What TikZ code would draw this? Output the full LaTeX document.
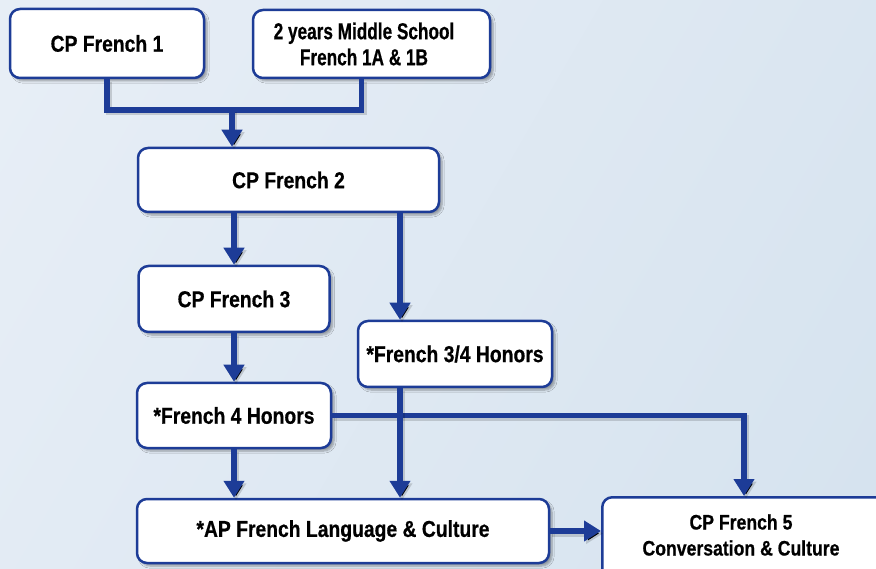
\documentclass[tikz,border=0pt]{standalone}
\usepackage{fontspec}
\setmainfont{Liberation Sans}[FakeStretch=0.84, BoldFeatures={FakeBold=0.6}]
\usetikzlibrary{arrows.meta,shadows.blur,calc}
\definecolor{bgA}{HTML}{E7EEF6}
\definecolor{bgB}{HTML}{D6E3EF}
\definecolor{navy}{HTML}{1D3C97}
\tikzset{
  box/.style={draw=navy, line width=2.5pt, fill=white, rounded corners=10pt,
    align=center, inner sep=0pt, font=\fontsize{23}{26}\selectfont\bfseries,
    blur shadow={shadow xshift=3pt, shadow yshift=-3pt, shadow blur steps=6, shadow opacity=35}},
  conn/.style={draw=navy, line width=5.5pt,
    preaction={draw=black, draw opacity=0.15, line width=6pt, transform canvas={shift={(2pt,-2.5pt)}}}},
  arr/.style={conn, -{Triangle[width=20pt,length=17pt]}},
}
\begin{document}
\begin{tikzpicture}[x=1pt,y=-1pt]
\useasboundingbox (0,0) rectangle (876,569);
\clip (0,0) rectangle (876,569);
\shade[shading=axis, left color=bgA, right color=bgB, shading angle=60] (-100,-100) rectangle (976,669);

\node[box, minimum width=194pt, minimum height=69pt] (f1) at (107,43.5) {CP French 1};
\node[box, minimum width=237pt, minimum height=68pt] (ms) at (371.5,44) {};
\node[font=\fontsize{23}{26}\selectfont\bfseries, align=center, inner sep=0pt] (mst) at (364,44) {\scalebox{0.89}[1]{2 years Middle School}\\\scalebox{0.89}[1]{French 1A \& 1B}};
\node[box, minimum width=301pt, minimum height=64pt] (f2) at (288.5,180) {CP French 2};
\node[box, minimum width=191pt, minimum height=66pt] (f3) at (234,299) {CP French 3};
\node[box, minimum width=194pt, minimum height=66pt] (h34) at (455,354) {*French 3/4 Honors};
\node[box, minimum width=194pt, minimum height=65pt] (h4) at (234,415.5) {*French 4 Honors};
\node[box, minimum width=412pt, minimum height=64pt] (ap) at (343,531) {*AP French Language \& Culture};
\node[box, minimum width=320pt, minimum height=120pt, anchor=north west] (cp5) at (601,496) {};
\node[font=\fontsize{21}{26}\selectfont\bfseries, align=center, inner sep=0pt] (cp5t) at (741,535) {CP French 5\\Conversation \& Culture};

\coordinate (j1) at (232,110);
\coordinate (c400) at (400,0);
\coordinate (c744) at (744,0);

\draw[conn] (f1.south) |- ([xshift=-10pt]ms.south |- j1) -- ([xshift=-10pt]ms.south);
\draw[arr] (j1) -- (f2.north -| j1);
\draw[arr] (f3.north |- f2.south) -- (f3.north);
\draw[arr] (f2.south -| c400) -- (h34.north -| c400);
\draw[arr] (f3.south) -- (h4.north);
\draw[arr] (h4.south) -- (ap.north -| h4.south);
\draw[arr] (h4.east) -| (cp5.north -| c744);
\draw[arr] (h34.south -| c400) -- (ap.north -| c400);
\draw[arr] (ap.east) -- (ap.east -| cp5.west);
\end{tikzpicture}
\end{document}
